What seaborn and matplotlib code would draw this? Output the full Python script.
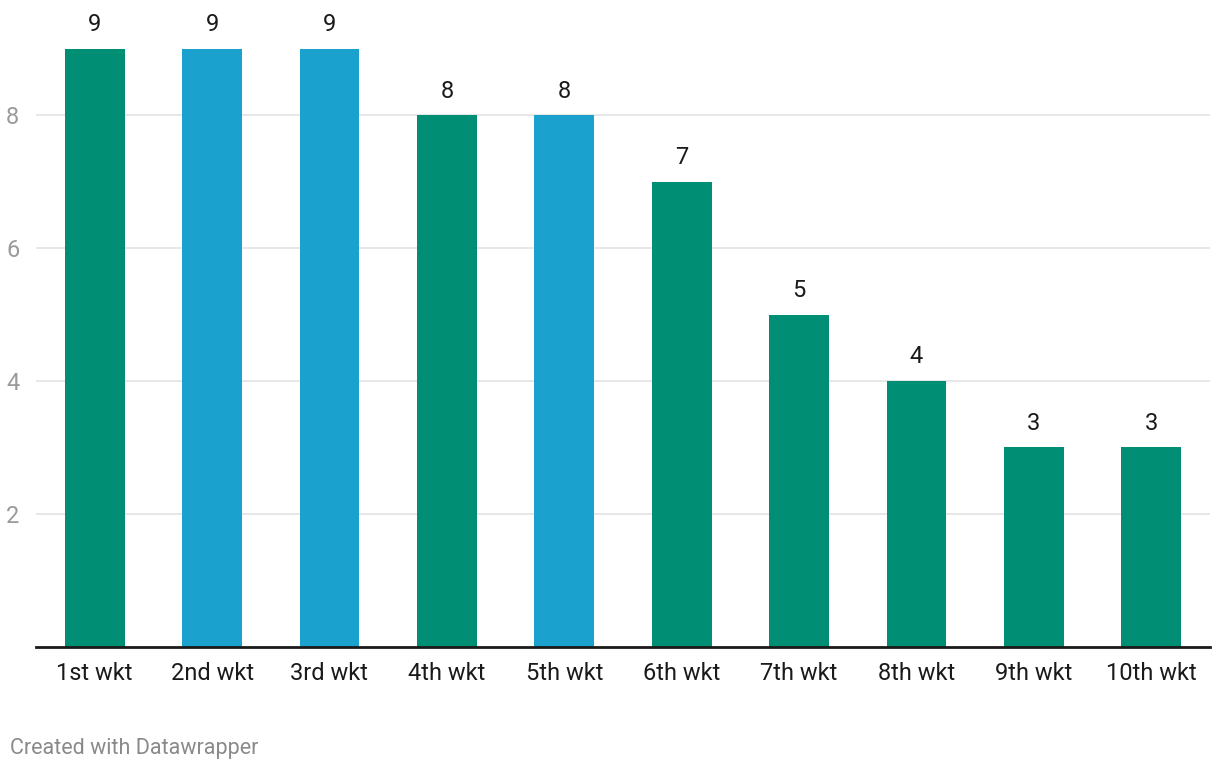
import matplotlib
matplotlib.use('Agg')
import matplotlib.pyplot as plt
import seaborn as sns

# ── Data ──────────────────────────────────────────────────────────────────
wickets = ['1st wkt', '2nd wkt', '3rd wkt', '4th wkt', '5th wkt',
           '6th wkt', '7th wkt', '8th wkt', '9th wkt', '10th wkt']
counts = [9, 9, 9, 8, 8, 7, 5, 4, 3, 3]
highlight = [False, True, True, False, True, False, False, False, False, False]

GREEN, BLUE = '#008f74', '#1aa1ce'
bar_colors = [BLUE if h else GREEN for h in highlight]

sns.set_style('white')
plt.rcParams['font.family'] = ['Roboto', 'DejaVu Sans']

fig = plt.figure(figsize=(12.2, 7.68), dpi=100)
ax = fig.add_axes([0.0295, 0.1576, 0.9623, 0.8225])

sns.barplot(x=wickets, y=counts, hue=wickets, palette=bar_colors,
            legend=False, width=0.51, saturation=1, linewidth=0,
            ax=ax, zorder=3)

for c in ax.containers:
    ax.bar_label(c, fmt='%d', padding=9, fontsize=17, color='#1a1a1a')

ax.set_xlim(-0.5, 9.5)
ax.set_ylim(0, 9.5)
ax.set_yticks([2, 4, 6, 8])
ax.yaxis.grid(True, color='#e3e3e3', linewidth=1.2, zorder=0)
ax.tick_params(axis='y', length=0, pad=12, labelsize=17, labelcolor='#9a9a9a')
ax.tick_params(axis='x', length=0, pad=11, labelsize=17, labelcolor='#1a1a1a')
ax.set_xlabel(''); ax.set_ylabel('')
for s in ['top', 'right', 'left']:
    ax.spines[s].set_visible(False)
ax.spines['bottom'].set_color('#1a1a1a')
ax.spines['bottom'].set_linewidth(2)
ax.spines['bottom'].set_zorder(4)

fig.text(0.008, 0.018, 'Created with Datawrapper', fontsize=15.5, color='#8a8a8a')

fig.savefig('out.png', dpi=100, facecolor='white')
